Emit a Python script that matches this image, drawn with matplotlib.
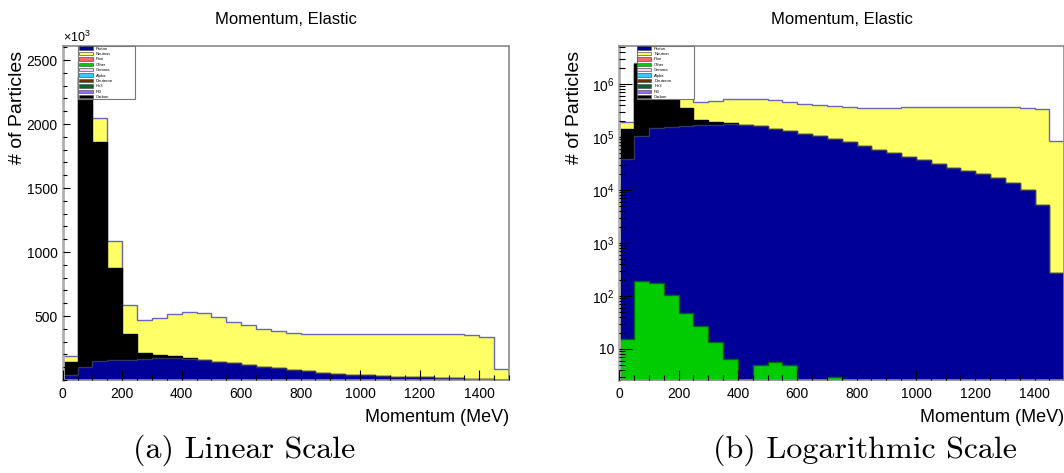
import numpy as np
import matplotlib.pyplot as plt
import matplotlib.ticker as mticker
from matplotlib.patches import Patch

plt.rcParams['font.family'] = ['Liberation Sans', 'DejaVu Sans']
plt.rcParams['mathtext.fontset'] = 'custom'
plt.rcParams['mathtext.rm'] = 'Liberation Sans'
plt.rcParams['mathtext.it'] = 'Liberation Sans:italic'

# 30 bins of 50 MeV, 0-1500 MeV
bin_edges = np.arange(0, 1501, 50)

# counts per bin (x10^3)
other = np.array([15.4, 193, 179, 105, 47.7, 27.5, 13.5, 6.6, 0, 4.9, 5.8, 4.9, 0, 0, 3,
                  0, 0, 0, 0, 0, 0, 0, 0, 0, 0, 0, 0, 0, 0, 0]) / 1000.0
proton = np.array([38, 105, 149, 155, 160, 165, 170, 175, 168, 158, 143, 131, 115, 104, 90,
                   79, 67, 57, 50, 42.4, 36.2, 30.9, 26.3, 23.1, 19.8, 17.1, 13.7, 10.0,
                   5.15, 0.27])
carbon = np.array([105, 2265, 1713, 722, 199, 48, 23, 10, 2, 1, 0.5, 0.3, 0.2, 0.1, 0.05,
                   0, 0, 0, 0, 0, 0, 0, 0, 0, 0, 0, 0, 0, 0, 0])
neutron = np.array([47, 122, 185, 209, 224, 253, 289, 328, 359, 362, 346, 320, 312, 292, 290,
                    286, 290, 300, 307, 318, 326, 331, 336, 339, 342, 345, 346, 342, 331, 83])

legend_names = ['Proton', 'Neutron', 'Pion', 'Other', 'Gamma', 'Alpha',
                'Deuteron', 'He3', 'Pi0', 'Carbon']
legend_colors = ['#000099', '#ffff66', '#ff6666', '#00cc00', '#ffccff', '#33ccff',
                 '#663300', '#006633', '#9966ff', '#000000']

# stacking order bottom -> top
stack = [(other, '#00cc00', '#006600'),
         (proton, '#000099', '#333366'),
         (carbon, '#000000', '#000000'),
         (neutron, '#ffff66', '#6666bb')]

W, H = 1064, 473
fig = plt.figure(figsize=(W / 100, H / 100), dpi=100)


def draw(ax, scale, leg_x):
    cum = np.zeros(len(bin_edges) - 1)
    layers = []
    for vals, fc, ec in stack:
        cum = cum + vals
        layers.append((cum.copy(), fc, ec))
    # draw tallest first so lower layers cover it (ROOT THStack style)
    for top, fc, ec in reversed(layers):
        v = top * 1000.0 if scale == 'log' else top
        ax.stairs(v, bin_edges, fill=True, facecolor=fc, edgecolor='none',
                  baseline=(1e-3 if scale == 'log' else 0))
        ax.stairs(v, bin_edges, fill=False, color=ec, linewidth=1.0,
                  baseline=None)
    ax.set_xlim(0, 1500)
    ax.xaxis.set_major_locator(mticker.MultipleLocator(200))
    ax.xaxis.set_minor_locator(mticker.MultipleLocator(50))
    ax.tick_params(axis='x', which='major', direction='in', length=7, width=0.8,
                   labelsize=10, pad=5)
    ax.tick_params(axis='x', which='minor', direction='in', length=3.5, width=0.8)
    ax.tick_params(axis='y', which='both', direction='in', labelsize=10, width=0.8)
    for s in ax.spines.values():
        s.set_color('#8a8a8a')
        s.set_linewidth(1.2)
    ax.spines['left'].set_linewidth(2.0)
    ax.spines['left'].set_color('#b0b0b0')
    ax.set_axisbelow(False)
    ax.set_title('Momentum, Elastic', fontsize=12, pad=16)
    ax.set_xlabel('Momentum (MeV)', fontsize=13, loc='right', labelpad=6)
    ax.set_ylabel('# of Particles', fontsize=14, loc='top')
    ax.yaxis.set_label_coords(-0.082, 0.985)

    handles = [Patch(facecolor=c, edgecolor='#555555', linewidth=0.5)
               for c in legend_colors]
    leg = ax.legend(handles, legend_names, loc='upper left', mode='expand',
                    bbox_to_anchor=(leg_x, 1 - 53 / 334, 57 / 446, 53 / 334),
                    fontsize=3.0, frameon=True,
                    fancybox=False, edgecolor='#777777', framealpha=1,
                    borderpad=0.1, labelspacing=0.31, handlelength=3.4,
                    handleheight=0.85, handletextpad=0.7, borderaxespad=0)
    leg.get_frame().set_linewidth(0.8)
    leg.set_zorder(10)


# linear
ax1 = fig.add_axes([62.7 / W, 93 / H, 446 / W, 334 / H])
draw(ax1, 'lin', 0.035)
ax1.set_ylim(0, 2610)
ax1.yaxis.set_major_locator(mticker.FixedLocator([500, 1000, 1500, 2000, 2500]))
ax1.yaxis.set_minor_locator(mticker.MultipleLocator(100))
ax1.tick_params(axis='y', which='major', length=5)
ax1.tick_params(axis='y', which='minor', length=3)
ax1.text(0.0, 1.003, r'$\times10^{3}$', transform=ax1.transAxes, fontsize=9,
         ha='left', va='bottom')

# log
ax2 = fig.add_axes([619.3 / W, 93 / H, 445 / W, 334 / H])
draw(ax2, 'log', 0.039)
ax2.set_yscale('log')
ax2.set_ylim(2.6, 5.2e6)
ax2.yaxis.set_major_locator(mticker.FixedLocator([10, 1e2, 1e3, 1e4, 1e5, 1e6]))
ax2.yaxis.set_major_formatter(mticker.FixedFormatter(
    ['10', r'$10^{2}$', r'$10^{3}$', r'$10^{4}$', r'$10^{5}$', r'$10^{6}$']))
ax2.yaxis.set_minor_locator(mticker.LogLocator(base=10, subs=np.arange(2, 10)))
ax2.yaxis.set_minor_formatter(mticker.NullFormatter())
ax2.tick_params(axis='y', which='major', length=9)
ax2.tick_params(axis='y', which='minor', length=4.5)

fig.text(244 / W, 1 - 450 / H, '(a) Linear Scale', fontfamily='cmr10', fontsize=23,
         ha='center', va='center')
fig.text(865 / W, 1 - 450 / H, '(b) Logarithmic Scale', fontfamily='cmr10', fontsize=23,
         ha='center', va='center')

fig.savefig('out.png', dpi=100)
